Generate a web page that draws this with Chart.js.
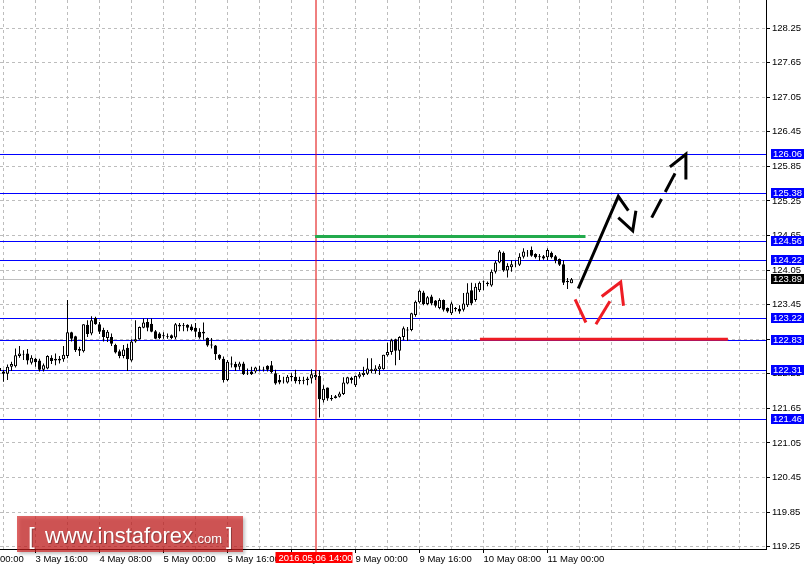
<!DOCTYPE html>
<html lang="en">
<head>
<meta charset="utf-8"/>
<title>USDJPY H1</title>
<script src="https://cdn.jsdelivr.net/npm/chart.js@4"></script>
<style>
    html, body { margin: 0; padding: 0; background: #fff; }
    #wrap { position: relative; width: 804px; height: 567px; }
</style>
</head>
<body>
<div id="wrap"><canvas id="chart"></canvas></div>
<script>
// hourly candles, index 0 = 3 May 08:00
const firstIdx = -1;
const opens = [
    122.35, 122.29, 122.25, 122.37, 122.38, 122.56, 122.58, 122.60,
    122.44, 122.51, 122.48, 122.32, 122.34, 122.53, 122.51, 122.48,
    122.50, 122.56, 122.97, 122.90, 122.68, 122.64, 123.10, 122.95,
    123.22, 123.11, 123.01, 122.87, 122.89, 122.75, 122.64, 122.56,
    122.70, 122.48, 122.81, 122.85, 123.05, 123.15, 123.12, 122.99,
    122.95, 122.92, 122.90, 122.92, 122.88, 123.10, 123.09, 123.10,
    123.07, 123.05, 122.98, 122.98, 122.87, 122.76, 122.74, 122.58,
    122.51, 122.14, 122.41, 122.42, 122.37, 122.43, 122.27, 122.29,
    122.29, 122.33, 122.32, 122.39, 122.40, 122.26, 122.14, 122.13,
    122.10, 122.21, 122.20, 122.14, 122.14, 122.14, 122.17, 122.19,
    122.21, 121.79, 122.01, 121.83, 121.83, 121.85, 121.90, 122.08,
    122.18, 122.05, 122.20, 122.23, 122.25, 122.33, 122.30, 122.33,
    122.33, 122.57, 122.63, 122.85, 122.65, 122.89, 123.02, 123.01,
    123.27, 123.49, 123.66, 123.46, 123.59, 123.52, 123.39, 123.53,
    123.39, 123.30, 123.37, 123.38, 123.36, 123.44, 123.70, 123.53,
    123.70, 123.85, 123.81, 123.78, 124.02, 124.18, 124.35, 124.04,
    124.10, 124.15, 124.14, 124.28, 124.35, 124.40, 124.33, 124.29,
    124.29, 124.27, 124.35, 124.29, 124.24, 124.15, 123.86, 123.82
];
const highs = [
    122.40, 122.32, 122.41, 122.46, 122.69, 122.73, 122.66, 122.68,
    122.57, 122.53, 122.51, 122.43, 122.57, 122.57, 122.60, 122.56,
    122.73, 123.53, 122.98, 122.91, 122.72, 123.11, 123.18, 123.25,
    123.24, 123.15, 123.05, 123.01, 122.95, 122.77, 122.67, 122.75,
    122.77, 122.85, 123.18, 123.07, 123.21, 123.21, 123.21, 123.01,
    122.97, 122.97, 122.95, 122.93, 123.13, 123.13, 123.13, 123.11,
    123.11, 123.13, 123.04, 123.14, 122.88, 122.87, 122.75, 122.59,
    122.55, 122.49, 122.55, 122.46, 122.46, 122.46, 122.34, 122.37,
    122.37, 122.39, 122.37, 122.40, 122.47, 122.32, 122.23, 122.20,
    122.23, 122.26, 122.32, 122.20, 122.20, 122.20, 122.33, 122.31,
    122.31, 122.05, 122.01, 121.88, 121.88, 121.94, 122.19, 122.20,
    122.20, 122.22, 122.28, 122.37, 122.52, 122.52, 122.40, 122.42,
    122.58, 122.79, 122.86, 122.86, 122.90, 123.07, 123.06, 123.31,
    123.52, 123.71, 123.69, 123.60, 123.62, 123.53, 123.56, 123.54,
    123.40, 123.50, 123.41, 123.44, 123.65, 123.82, 123.83, 123.82,
    123.85, 123.87, 123.85, 124.06, 124.21, 124.40, 124.37, 124.17,
    124.22, 124.21, 124.34, 124.43, 124.40, 124.46, 124.34, 124.33,
    124.31, 124.43, 124.37, 124.31, 124.25, 124.22, 123.91, 123.91
];
const lows = [
    122.26, 122.11, 122.14, 122.30, 122.36, 122.53, 122.49, 122.41,
    122.41, 122.37, 122.29, 122.29, 122.33, 122.42, 122.40, 122.43,
    122.46, 122.52, 122.81, 122.63, 122.56, 122.62, 122.89, 122.92,
    123.10, 122.94, 122.81, 122.80, 122.73, 122.60, 122.52, 122.52,
    122.30, 122.46, 122.79, 122.84, 123.04, 122.99, 122.97, 122.85,
    122.85, 122.86, 122.86, 122.85, 122.85, 122.99, 122.99, 122.99,
    122.99, 122.89, 122.86, 122.84, 122.72, 122.69, 122.49, 122.49,
    122.10, 122.12, 122.36, 122.30, 122.32, 122.23, 122.23, 122.23,
    122.26, 122.29, 122.29, 122.29, 122.26, 122.06, 122.07, 122.08,
    122.08, 122.12, 122.08, 122.07, 122.07, 122.05, 122.08, 122.14,
    121.49, 121.75, 121.78, 121.78, 121.82, 121.84, 121.88, 122.07,
    122.08, 122.02, 122.17, 122.20, 122.23, 122.26, 122.25, 122.23,
    122.32, 122.55, 122.58, 122.40, 122.49, 122.83, 122.82, 122.99,
    123.24, 123.47, 123.44, 123.44, 123.44, 123.40, 123.37, 123.33,
    123.31, 123.27, 123.33, 123.29, 123.33, 123.41, 123.44, 123.50,
    123.67, 123.70, 123.77, 123.76, 123.99, 124.17, 124.02, 123.92,
    124.02, 124.10, 124.12, 124.25, 124.28, 124.28, 124.25, 124.21,
    124.23, 124.22, 124.25, 124.17, 124.12, 123.79, 123.72, 123.82
];
const closes = [
    122.30, 122.25, 122.37, 122.42, 122.57, 122.60, 122.59, 122.48,
    122.53, 122.45, 122.32, 122.40, 122.56, 122.47, 122.48, 122.51,
    122.58, 122.97, 122.86, 122.66, 122.65, 123.11, 122.94, 123.18,
    123.11, 122.98, 122.89, 122.98, 122.77, 122.62, 122.56, 122.67,
    122.50, 122.81, 122.85, 123.06, 123.14, 123.05, 122.98, 122.86,
    122.87, 122.90, 122.89, 122.87, 123.11, 123.07, 123.08, 123.05,
    123.01, 122.98, 122.88, 122.95, 122.74, 122.74, 122.59, 122.51,
    122.14, 122.46, 122.43, 122.36, 122.43, 122.24, 122.26, 122.24,
    122.36, 122.32, 122.33, 122.32, 122.28, 122.08, 122.10, 122.12,
    122.20, 122.19, 122.12, 122.12, 122.13, 122.17, 122.24, 122.23,
    121.81, 121.99, 121.82, 121.81, 121.86, 121.91, 122.10, 122.19,
    122.14, 122.21, 122.24, 122.27, 122.34, 122.30, 122.34, 122.38,
    122.58, 122.63, 122.83, 122.65, 122.89, 123.04, 123.00, 123.30,
    123.50, 123.69, 123.46, 123.58, 123.47, 123.43, 123.53, 123.36,
    123.33, 123.47, 123.39, 123.33, 123.47, 123.66, 123.47, 123.76,
    123.83, 123.86, 123.83, 124.02, 124.18, 124.37, 124.04, 124.12,
    124.15, 124.16, 124.28, 124.37, 124.34, 124.30, 124.27, 124.27,
    124.25, 124.40, 124.27, 124.21, 124.14, 123.83, 123.84, 123.89
];

const levelPrices = [126.06, 125.38, 124.56, 124.22, 123.22, 122.83, 122.31, 121.46];
const lastPrice = 123.89;
const yTicks = [128.25, 127.65, 127.05, 126.45, 125.85, 125.25, 124.65, 124.05,
                123.45, 122.85, 122.25, 121.65, 121.05, 120.45, 119.85, 119.25];
const xTickIdx = [-8, 0, 8, 16, 24, 32, 40, 48, 56, 64, 72, 80, 88, 96, 104, 112,
                  120, 128, 136, 144, 152, 160, 168, 176, 184];
const xTickLabels = {
    '-8': '3 May 00:00', '8': '3 May 16:00', '24': '4 May 08:00', '40': '5 May 00:00',
    '56': '5 May 16:00', '72': '6 May 08:00', '88': '9 May 00:00', '104': '9 May 16:00',
    '120': '10 May 08:00', '136': '11 May 00:00'
};
const crossIdx = 78;
const crossLabel = '2016.05.06 14:00';

// drawn analysis (x = candle index, y = price)
const greenLine = [[77.9, 124.63], [145.5, 124.63]];
const redLevel = [[119.1, 122.85], [181.1, 122.85]];
const blackUp = [[143.7, 123.73], [153.7, 125.33], [156.2, 125.08]];
const blackHead1 = [[153.7, 124.96], [157.3, 124.73], [158.1, 125.08]];
const blackDash = [[162.05, 124.96], [167.9, 125.73]];
const blackHead2 = [[166.6, 125.84], [170.6, 126.06], [170.6, 125.62]];
const redDown = [[142.9, 123.54], [145.6, 123.14]];
const redUp = [[148.1, 123.11], [151.6, 123.51]];
const redHead = [[149.55, 123.59], [154.3, 123.84], [155.0, 123.43]];

const fontFamily = '"Liberation Sans", Arial, sans-serif';
const axisFont = { family: fontFamily, size: 9.5 };

const wickData = highs.map((h, k) => ({ x: firstIdx + k, y: [lows[k], h] }));
const bodyData = opens.map((o, k) => ({ x: firstIdx + k, y: [o, closes[k]] }));

function pts(arr) { return arr.map(p => ({ x: p[0], y: p[1] })); }
function lineSet(arr, color, dash) {
    return {
        type: 'line', data: pts(arr), borderColor: color, borderWidth: 3,
        borderDash: dash || [], pointRadius: 0, tension: 0, fill: false, order: 1
    };
}

const overlay = {
    id: 'overlay',
    beforeDatasetsDraw(chart) {
        const { ctx, chartArea: a, scales: { x, y } } = chart;
        ctx.save();
        ctx.lineWidth = 1;
        // last price line
        ctx.strokeStyle = '#c0c0c0';
        let py = Math.round(y.getPixelForValue(lastPrice)) + 0.5;
        ctx.beginPath(); ctx.moveTo(a.left, py); ctx.lineTo(a.right, py); ctx.stroke();
        // support / resistance levels
        ctx.strokeStyle = '#0000ff';
        levelPrices.forEach(p => {
            const ly = Math.round(y.getPixelForValue(p)) + 0.5;
            ctx.beginPath(); ctx.moveTo(a.left, ly); ctx.lineTo(a.right, ly); ctx.stroke();
        });
        // crosshair
        const cx = Math.round(x.getPixelForValue(crossIdx)) - 0.5 + 0.5;
        ctx.strokeStyle = '#e00000';
        ctx.beginPath(); ctx.moveTo(cx, a.top); ctx.lineTo(cx, a.bottom + 3); ctx.stroke();
        ctx.restore();
    },
    afterDraw(chart) {
        const { ctx, chartArea: a, scales: { x, y } } = chart;
        ctx.save();
        ctx.font = '9.5px ' + fontFamily;
        ctx.textBaseline = 'middle';
        ctx.textAlign = 'left';
        const box = (p, bg) => {
            const by = Math.round(y.getPixelForValue(p));
            ctx.fillStyle = bg;
            ctx.fillRect(a.right + 5, by - 5, 33, 10);
            ctx.fillStyle = '#fff';
            ctx.fillText(p.toFixed(2), a.right + 7, by + 0.5);
        };
        levelPrices.forEach(p => box(p, '#0000ff'));
        box(lastPrice, '#000000');

        // time label of the crosshair
        const cx = x.getPixelForValue(crossIdx);
        ctx.fillStyle = '#ff0000';
        ctx.fillRect(cx - 40, a.bottom + 3, 77, 11);
        ctx.fillStyle = '#fff';
        ctx.fillText(crossLabel, cx - 37, a.bottom + 9);

        // watermark
        ctx.save();
        ctx.shadowColor = 'rgba(0,0,0,0.35)';
        ctx.shadowBlur = 3;
        ctx.shadowOffsetX = 2;
        ctx.shadowOffsetY = 2;
        ctx.fillStyle = 'rgba(210,30,30,0.68)';
        ctx.fillRect(17, 516, 226, 36);
        ctx.restore();
        ctx.fillStyle = '#fff';
        ctx.textBaseline = 'alphabetic';
        ctx.shadowColor = 'rgba(0,0,0,0.3)';
        ctx.shadowOffsetX = 1;
        ctx.shadowOffsetY = 1;
        ctx.font = '24px ' + fontFamily;
        ctx.fillText('[', 28, 544);
        ctx.fillText(']', 226, 544);
        ctx.font = '22px ' + fontFamily;
        ctx.fillText('www.instaforex', 45, 543);
        const w = ctx.measureText('www.instaforex').width;
        ctx.font = '13px ' + fontFamily;
        ctx.fillText('.com', 45 + w + 1, 543);
        ctx.restore();
    }
};

new Chart(document.getElementById('chart'), {
    type: 'bar',
    data: {
        datasets: [
            {
                data: wickData, backgroundColor: '#000', borderWidth: 0,
                barThickness: 1, grouped: false, borderSkipped: false, inflateAmount: 0, order: 3
            },
            {
                data: bodyData,
                backgroundColor: c => (c.raw && c.raw.y[1] >= c.raw.y[0]) ? '#ffffff' : '#000000',
                borderColor: '#000', borderWidth: 1,
                barThickness: 3, grouped: false, borderSkipped: false, inflateAmount: 0, order: 2
            },
            Object.assign(lineSet(greenLine, '#22aa4c'), {}),
            lineSet(redLevel, '#ee1c24'),
            lineSet(blackUp, '#000'),
            lineSet(blackHead1, '#000'),
            lineSet(blackDash, '#000', [21, 8]),
            lineSet(blackHead2, '#000'),
            lineSet(redDown, '#ee1c24'),
            lineSet(redUp, '#ee1c24'),
            lineSet(redHead, '#ee1c24')
        ]
    },
    options: {
        responsive: true,
        maintainAspectRatio: false,
        animation: false,
        events: [],
        layout: { padding: 0 },
        plugins: { legend: { display: false }, tooltip: { enabled: false } },
        scales: {
            x: {
                type: 'linear',
                min: -0.875,
                max: 190.625,
                offset: false,
                grid: {
                    offset: false,
                    color: '#bdbdbd',
                    tickLength: 4,
                    tickColor: c => (c.tick && xTickLabels[c.tick.value] !== undefined) ? '#000' : 'rgba(0,0,0,0)'
                },
                border: { display: true, color: '#000', width: 1, dash: [3, 3] },
                ticks: {
                    autoSkip: false, maxRotation: 0, minRotation: 0, align: 'start', padding: 1,
                    color: '#000', font: axisFont,
                    callback: v => xTickLabels[v] || ''
                },
                afterBuildTicks: s => { s.ticks = xTickIdx.map(v => ({ value: v })); },
                afterFit: s => { s.height = 18; s.paddingLeft = 0; s.paddingRight = 0; }
            },
            y: {
                type: 'linear',
                position: 'right',
                min: 119.2096,
                max: 128.7359,
                grid: { color: '#bdbdbd', tickLength: 4, tickColor: '#000' },
                border: { display: true, color: '#000', width: 1, dash: [3, 3] },
                ticks: {
                    autoSkip: false, padding: 2, color: '#000', font: axisFont,
                    callback: v => Number(v).toFixed(2)
                },
                afterBuildTicks: s => { s.ticks = yTicks.map(v => ({ value: v })); },
                afterFit: s => { s.width = 38; s.paddingTop = 0; s.paddingBottom = 0; }
            }
        }
    },
    plugins: [overlay]
});
</script>
</body>
</html>
